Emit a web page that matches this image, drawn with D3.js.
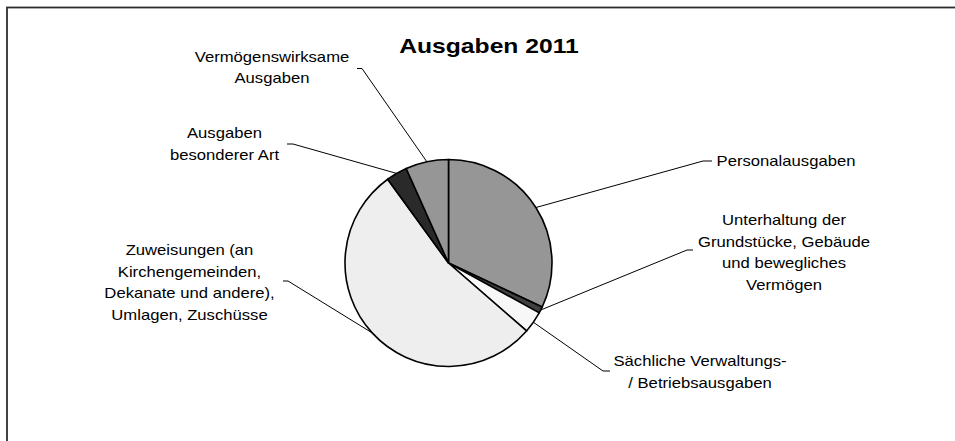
<!DOCTYPE html>
<html>
<head>
<meta charset="utf-8">
<script src="https://cdn.jsdelivr.net/npm/d3@7"></script>
<style>
  body { margin: 0; background: #fff; }
  svg { display: block; }
  text { font-family: "Liberation Sans", Arial, sans-serif; fill: #000; }
</style>
</head>
<body>
<div id="chart"></div>
<script>
/* Data */
const categories = [
  "Personalausgaben",
  "Unterhaltung der Grundstücke, Gebäude und bewegliches Vermögen",
  "Sächliche Verwaltungs- / Betriebsausgaben",
  "Zuweisungen (an Kirchengemeinden, Dekanate und andere), Umlagen, Zuschüsse",
  "Ausgaben besonderer Art",
  "Vermögenswirksame Ausgaben"
]
const shares = [32.0, 1.0, 3.4, 53.6, 3.3, 6.7]
const labelLines = [
  ["Personalausgaben"],
  ["Unterhaltung der", "Grundstücke, Gebäude", "und bewegliches", "Vermögen"],
  ["Sächliche Verwaltungs-", "/ Betriebsausgaben"],
  ["Zuweisungen (an", "Kirchengemeinden,", "Dekanate und andere),", "Umlagen, Zuschüsse"],
  ["Ausgaben", "besonderer Art"],
  ["Vermögenswirksame", "Ausgaben"]
]
const fills = ["#969696", "#404040", "#f7f7f7", "#eeeeee", "#2a2a2a", "#969696"]
const title = "Ausgaben 2011"
/* End Data */

const width = 955
const height = 441
const cx = 448.5
const cy = 263
const radius = 103.5
const stretch = 1.19
const lineHeight = 21.6

// label layout: text centre, first baseline, leader elbow and leader end
const labelLayout = [
  { x: 786, y: 166, elbow: [703, 161], end: [712, 161] },
  { x: 784, y: 225, elbow: [687, 250], end: [693, 250] },
  { x: 700, y: 366, elbow: [603, 371], end: [610, 371] },
  { x: 189.5, y: 255, elbow: [288, 281], end: [283, 281] },
  { x: 224.5, y: 138.5, elbow: [293, 144], end: [287, 144] },
  { x: 272, y: 61.7, elbow: [362, 68.5], end: [357, 68.5] }
]

const svg = d3.select("#chart").append("svg")
    .attr("width", width)
    .attr("height", height)

// chart area border (runs off right and bottom)
svg.append("rect")
    .attr("x", 7)
    .attr("y", 7.5)
    .attr("width", 980)
    .attr("height", 470)
    .attr("fill", "none")
    .attr("stroke", "#2e2e2e")
    .attr("stroke-width", 1.8)

svg.append("text")
    .attr("transform", `translate(489,52.7) scale(1.175,1)`)
    .attr("text-anchor", "middle")
    .style("font-size", "21px")
    .style("font-weight", "bold")
    .text(title)

const pie = d3.pie().sort(null).value(d => d)
const arcs = pie(shares)

const arc = d3.arc().innerRadius(0).outerRadius(radius)

const g = svg.append("g")
    .attr("transform", `translate(${cx},${cy})`)

g.selectAll("path")
  .data(arcs)
  .join("path")
    .attr("d", arc)
    .attr("fill", (d, i) => fills[i])
    .attr("stroke", "#000")
    .attr("stroke-width", 1.6)
    .attr("stroke-linejoin", "round")

// leader lines from slice edge (mid angle) to label
const edgePoint = d => {
  const a = (d.startAngle + d.endAngle) / 2
  return [cx + radius * Math.sin(a), cy - radius * Math.cos(a)]
}

svg.selectAll("polyline.leader")
  .data(arcs)
  .join("polyline")
    .attr("class", "leader")
    .attr("points", (d, i) => {
      const l = labelLayout[i]
      return [edgePoint(d), l.elbow, l.end].map(p => p.join(",")).join(" ")
    })
    .attr("fill", "none")
    .attr("stroke", "#000")
    .attr("stroke-width", 1)

labelLines.forEach((lines, i) => {
  const l = labelLayout[i]
  const t = svg.append("text")
      .attr("transform", `translate(${l.x},0) scale(${stretch},1)`)
      .attr("text-anchor", "middle")
      .style("font-size", "14px")
  lines.forEach((line, j) => {
    t.append("tspan")
        .attr("x", 0)
        .attr("y", l.y + j * lineHeight)
        .text(line)
  })
})
</script>
</body>
</html>
